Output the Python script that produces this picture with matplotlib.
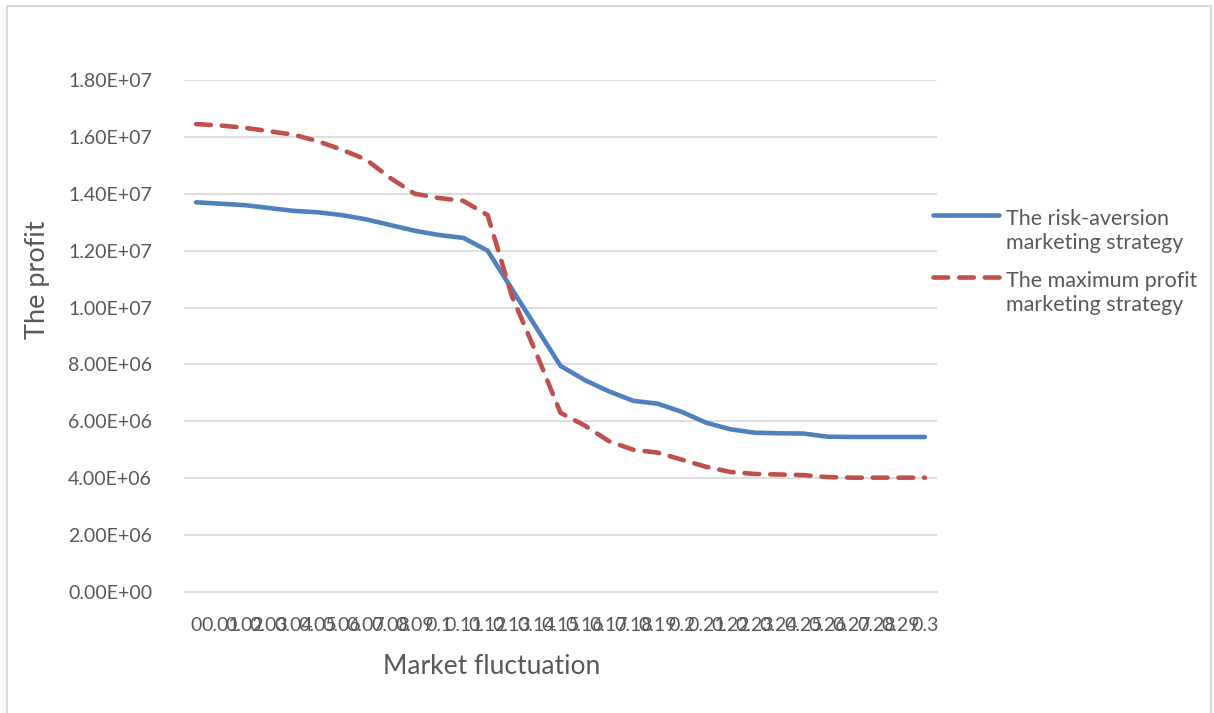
import matplotlib
matplotlib.use('Agg')
import matplotlib.pyplot as plt
from matplotlib.lines import Line2D
from matplotlib.patches import Rectangle

# dados
x_labels = ['0', '0.01', '0.02', '0.03', '0.04', '0.05', '0.06', '0.07', '0.08', '0.09',
            '0.1', '0.11', '0.12', '0.13', '0.14', '0.15', '0.16', '0.17', '0.18', '0.19',
            '0.2', '0.21', '0.22', '0.23', '0.24', '0.25', '0.26', '0.27', '0.28', '0.29', '0.3']
risk_aversion = [13.70e6, 13.65e6, 13.60e6, 13.50e6, 13.40e6, 13.35e6, 13.25e6, 13.10e6, 12.90e6, 12.70e6,
                 12.55e6, 12.45e6, 12.00e6, 10.65e6, 9.30e6, 7.95e6, 7.45e6, 7.05e6, 6.72e6, 6.62e6,
                 6.33e6, 5.95e6, 5.72e6, 5.60e6, 5.58e6, 5.57e6, 5.46e6, 5.45e6, 5.45e6, 5.45e6, 5.45e6]
max_profit = [16.45e6, 16.40e6, 16.32e6, 16.20e6, 16.08e6, 15.85e6, 15.55e6, 15.20e6, 14.55e6, 14.00e6,
              13.85e6, 13.75e6, 13.25e6, 10.40e6, 8.40e6, 6.30e6, 5.85e6, 5.30e6, 5.00e6, 4.90e6,
              4.65e6, 4.40e6, 4.22e6, 4.15e6, 4.13e6, 4.11e6, 4.04e6, 4.02e6, 4.02e6, 4.02e6, 4.02e6]
y_ticks = [0, 2e6, 4e6, 6e6, 8e6, 10e6, 12e6, 14e6, 16e6, 18e6]
y_tick_labels = ['0.00E+00', '2.00E+06', '4.00E+06', '6.00E+06', '8.00E+06',
                 '1.00E+07', '1.20E+07', '1.40E+07', '1.60E+07', '1.80E+07']

azul = '#4F81BD'
vermelho = '#C0504D'
cinza = '#595959'

plt.rcParams['font.family'] = ['Lato', 'DejaVu Sans']

fig = plt.figure(figsize=(12.14, 7.13), dpi=100)
ax = fig.add_axes([184 / 1214, 1 - 592 / 713, (937 - 184) / 1214, (592 - 80) / 713])

# moldura do grafico
fig.add_artist(Rectangle((7 / 1214, -0.01), (1211 - 7) / 1214, 1 - 6 / 713 + 0.01,
                         transform=fig.transFigure, fill=False, edgecolor='#D9D9D9', linewidth=1.5))

pos = list(range(len(x_labels)))
ax.plot(pos, risk_aversion, color=azul, linewidth=3.3, solid_capstyle='round', solid_joinstyle='round')
ax.plot(pos, max_profit, color=vermelho, linewidth=3.3, linestyle=(0, (3.2, 2.4)),
        dash_capstyle='round', dash_joinstyle='round')

ax.set_xlim(-0.5, len(x_labels) - 0.5)
ax.set_ylim(0, 18e6)
ax.set_yticks(y_ticks)
ax.set_yticklabels(y_tick_labels)
ax.set_xticks(pos)
ax.set_xticklabels(x_labels, family=['Liberation Sans Narrow', 'Lato'])
ax.tick_params(axis='both', length=0, colors=cinza)
ax.tick_params(axis='y', pad=23, labelsize=14)
ax.tick_params(axis='x', pad=18, labelsize=14)
ax.grid(axis='y', color='#D9D9D9', linewidth=1.2)
ax.set_axisbelow(True)
for s in ['top', 'right', 'left']:
    ax.spines[s].set_visible(False)
ax.spines['bottom'].set_color('#D9D9D9')
ax.spines['bottom'].set_linewidth(1.2)

ax.set_xlabel('Market fluctuation', fontsize=19, color=cinza, ha='center', va='center')
ax.xaxis.set_label_coords((492 - 184) / 753, (592 - 667) / 512)
ax.set_ylabel('The profit', fontsize=19.5, color=cinza, ha='center', va='center')
ax.yaxis.set_label_coords((38 - 184) / 753, (592 - 280) / 512)

# legenda feita a mao
fig.add_artist(Line2D([933 / 1214, 999 / 1214], [1 - 215 / 713, 1 - 215 / 713], color=azul,
                      linewidth=3.3, solid_capstyle='round', transform=fig.transFigure))
fig.add_artist(Line2D([933 / 1214, 999 / 1214], [1 - 277 / 713, 1 - 277 / 713], color=vermelho,
                      linewidth=3.3, linestyle=(0, (3.2, 2.4)), dash_capstyle='round',
                      transform=fig.transFigure))
fig.text(1006 / 1214, 1 - 231 / 713, 'The risk-aversion\nmarketing strategy', fontsize=15.5,
         color=cinza, va='center', ha='left', linespacing=1.3)
fig.text(1006 / 1214, 1 - 293 / 713, 'The maximum profit\nmarketing strategy', fontsize=15.5,
         color=cinza, va='center', ha='left', linespacing=1.3)

fig.savefig('out.png', dpi=100)
